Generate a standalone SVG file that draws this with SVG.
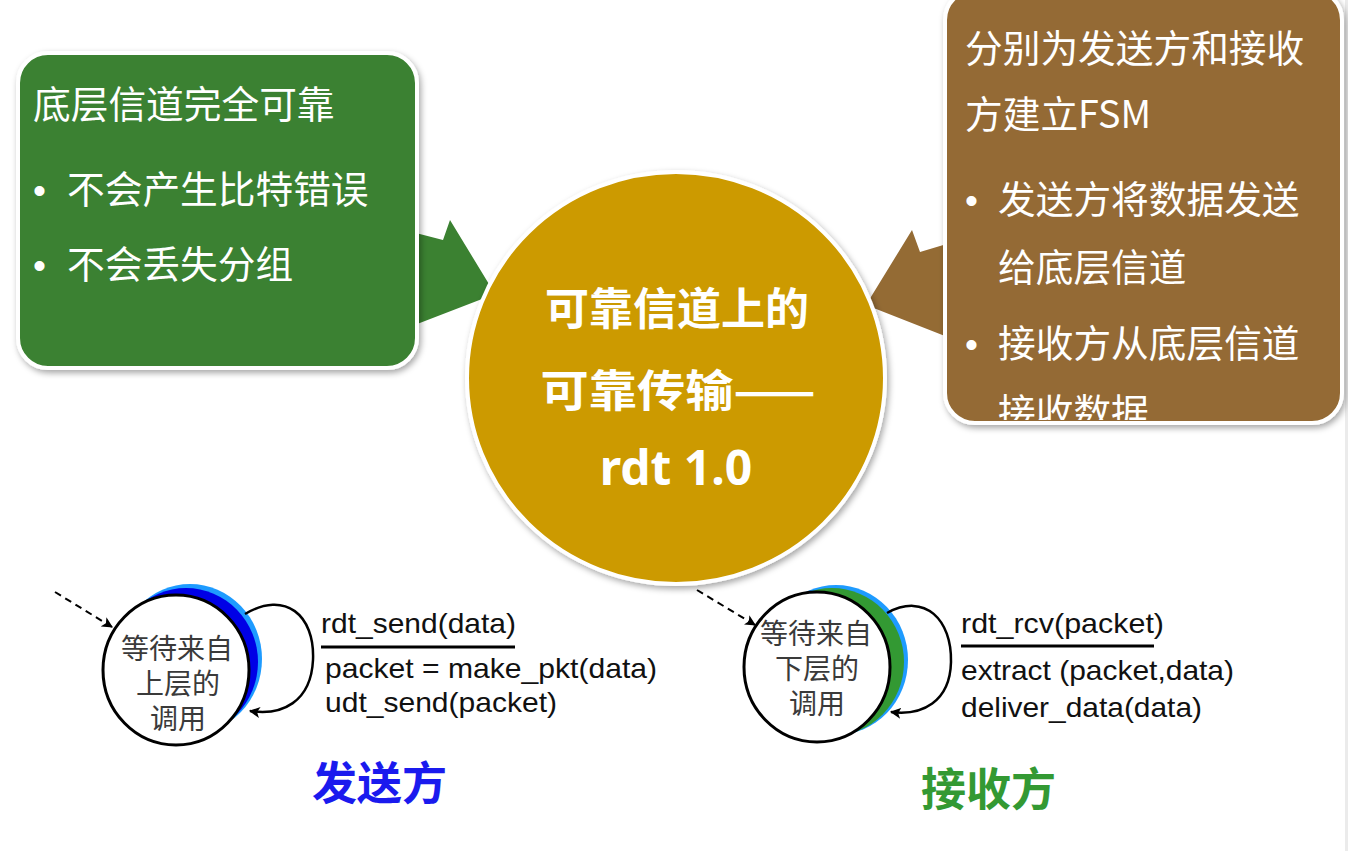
<svg xmlns="http://www.w3.org/2000/svg" width="1348" height="851" viewBox="0 0 1348 851">
  <style>
    .box-text { font-family: "Noto Sans CJK SC", "Noto Sans", sans-serif; font-size: 37.7px; fill: #ffffff; }
    .bullet { font-family: "Liberation Sans", Arial, sans-serif; font-size: 37px; fill: #ffffff; }
    .center-text { font-family: "Noto Sans CJK SC", "Noto Sans", sans-serif; font-size: 44px; font-weight: bold; fill: #ffffff; text-anchor: middle; }
    .state-text { font-family: "Noto Sans CJK SC", "Noto Sans", sans-serif; font-size: 28px; fill: #3a3a3a; text-anchor: middle; }
    .fsm-label { font-family: "Liberation Sans", Arial, sans-serif; font-size: 28px; fill: #111111; }
    .side-title { font-family: "Noto Sans CJK SC", "Noto Sans", sans-serif; font-size: 45px; font-weight: bold; }
    .loop { fill: none; stroke: #000000; stroke-width: 2.5; }
    .dashed { fill: none; stroke: #000000; stroke-width: 2; stroke-dasharray: 7 5; }
    .rule { stroke: #000000; stroke-width: 3; }
  </style>
  <defs>
    <filter id="shadow" x="-10%" y="-10%" width="125%" height="125%">
      <feDropShadow dx="2" dy="3" stdDeviation="3" flood-color="#000000" flood-opacity="0.35"/>
    </filter>
    <marker id="ah" viewBox="0 0 10 10" refX="9" refY="5" markerWidth="11" markerHeight="11" markerUnits="userSpaceOnUse" orient="auto">
      <path d="M0,0 L10,5 L0,10 L2.5,5 z" fill="#000000"/>
    </marker>
    <clipPath id="brownClip">
      <rect x="948" y="-8" width="391" height="428" rx="28"/>
    </clipPath>
  </defs>

  <rect x="0" y="0" width="1348" height="851" fill="#ffffff"/>
  <rect x="1345" y="0" width="3" height="851" fill="#ebebeb"/>

  <!-- Green box with pointer -->
  <g id="box-green">
    <polygon points="412,232 443,240 450,220 495,294 412,326" fill="#3b8131"/>
    <rect x="18" y="53" width="399" height="315" rx="30" fill="#3b8131" stroke="#ffffff" stroke-width="4" filter="url(#shadow)"/>
    <text class="box-text" x="33" y="118">底层信道完全可靠</text>
    <text class="bullet" x="33" y="203">•</text>
    <text class="box-text" x="67" y="203">不会产生比特错误</text>
    <text class="bullet" x="33" y="278">•</text>
    <text class="box-text" x="67" y="278">不会丢失分组</text>
  </g>

  <!-- Brown box with pointer -->
  <g id="box-brown">
    <polygon points="950,243 920,252 912,230 866,305 950,338" fill="#946b34"/>
    <rect x="945" y="-10" width="397" height="433" rx="30" fill="#946b34" stroke="#ffffff" stroke-width="4" filter="url(#shadow)"/>
    <g clip-path="url(#brownClip)">
      <text class="box-text" x="965" y="62">分别为发送方和接收</text>
      <text class="box-text" x="965" y="128">方建立FSM</text>
      <text class="bullet" x="965" y="213">•</text>
      <text class="box-text" x="998" y="213">发送方将数据发送</text>
      <text class="box-text" x="998" y="281">给底层信道</text>
      <text class="bullet" x="965" y="357">•</text>
      <text class="box-text" x="998" y="357">接收方从底层信道</text>
      <text class="box-text" x="998" y="426">接收数据</text>
    </g>
  </g>

  <!-- Center circle -->
  <g id="center-circle">
    <ellipse cx="676" cy="378" rx="209" ry="206" fill="#cc9a00" stroke="#ffffff" stroke-width="4" filter="url(#shadow)"/>
    <text class="center-text" x="677" y="325">可靠信道上的</text>
    <text class="center-text" x="678" y="407" textLength="275" lengthAdjust="spacingAndGlyphs">可靠传输——</text>
    <text class="center-text" x="676" y="485" style="font-family: 'Noto Sans', 'Liberation Sans', sans-serif; font-size: 48px;">rdt 1.0</text>
  </g>

  <!-- Sender state -->
  <g id="sender-state">
    <ellipse cx="190" cy="659" rx="72" ry="75" fill="#1e9bff"/>
    <ellipse cx="186" cy="662" rx="72" ry="74" fill="#0000e6"/>
    <ellipse cx="176" cy="670" rx="73" ry="75" fill="#ffffff" stroke="#000000" stroke-width="3"/>
    <text class="state-text" x="177" y="659">等待来自</text>
    <text class="state-text" x="178" y="694">上层的</text>
    <text class="state-text" x="178" y="729">调用</text>
  </g>

  <!-- Receiver state -->
  <g id="receiver-state">
    <ellipse cx="836" cy="660" rx="72" ry="75" fill="#1e9bff"/>
    <ellipse cx="832" cy="662" rx="72" ry="74" fill="#339933"/>
    <ellipse cx="817" cy="667" rx="73" ry="75" fill="#ffffff" stroke="#000000" stroke-width="3"/>
    <text class="state-text" x="816" y="644">等待来自</text>
    <text class="state-text" x="817" y="679">下层的</text>
    <text class="state-text" x="817" y="714">调用</text>
  </g>

  <!-- Connectors -->
  <g id="connectors">
    <path class="dashed" d="M 55 592 L 112 627" marker-end="url(#ah)"/>
    <path class="loop" d="M 245 614 C 285 590, 315 615, 313 660 C 311 702, 282 716, 250 711" marker-end="url(#ah)"/>
    <path class="dashed" d="M 697 590 L 755 625" marker-end="url(#ah)"/>
    <path class="loop" d="M 887 613 C 925 592, 952 620, 951 662 C 950 702, 922 716, 891 712" marker-end="url(#ah)"/>
  </g>

  <!-- Sender label -->
  <g id="sender-label">
    <text class="fsm-label" x="321" y="633" textLength="195" lengthAdjust="spacingAndGlyphs">rdt_send(data)</text>
    <line class="rule" x1="321" y1="647" x2="515" y2="647"/>
    <text class="fsm-label" x="325" y="678" textLength="332" lengthAdjust="spacingAndGlyphs">packet = make_pkt(data)</text>
    <text class="fsm-label" x="325" y="712" textLength="232" lengthAdjust="spacingAndGlyphs">udt_send(packet)</text>
    <text class="side-title" x="312" y="800" fill="#1a1aee">发送方</text>
  </g>

  <!-- Receiver label -->
  <g id="receiver-label">
    <text class="fsm-label" x="961" y="633" textLength="203" lengthAdjust="spacingAndGlyphs">rdt_rcv(packet)</text>
    <line class="rule" x1="961" y1="646" x2="1154" y2="646"/>
    <text class="fsm-label" x="961" y="680" textLength="273" lengthAdjust="spacingAndGlyphs">extract (packet,data)</text>
    <text class="fsm-label" x="961" y="717" textLength="241" lengthAdjust="spacingAndGlyphs">deliver_data(data)</text>
    <text class="side-title" x="921" y="806" fill="#339933">接收方</text>
  </g>
</svg>
